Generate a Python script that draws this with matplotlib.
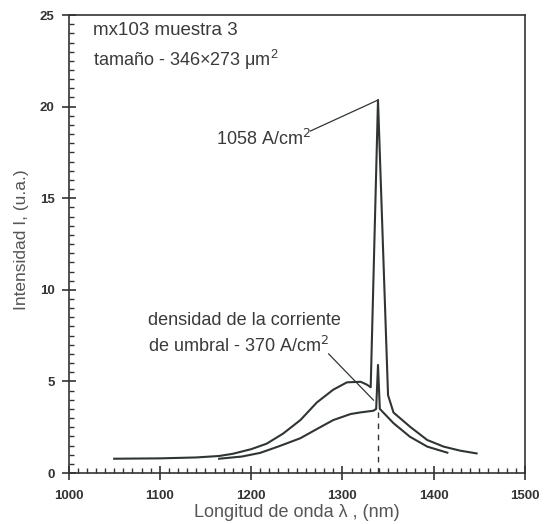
import matplotlib
matplotlib.use("Agg")
import matplotlib.pyplot as plt
from matplotlib.ticker import MultipleLocator

plt.rcParams['font.family'] = ['Liberation Sans', 'DejaVu Sans']

# curve at 1058 A/cm2 (tall laser line)
wl_high = [1050, 1100, 1140, 1165, 1180, 1200, 1217, 1235, 1254, 1272, 1290,
           1305, 1320, 1327, 1331, 1339, 1350, 1356, 1374, 1393, 1411, 1429, 1447]
int_high = [0.78, 0.80, 0.85, 0.93, 1.05, 1.30, 1.60, 2.15, 2.89, 3.85, 4.55,
            4.95, 4.98, 4.82, 4.68, 20.36, 4.25, 3.30, 2.53, 1.80, 1.44, 1.22, 1.07]

# curve at threshold, 370 A/cm2
wl_low = [1165, 1190, 1210, 1230, 1254, 1272, 1290, 1309, 1320, 1334, 1337,
          1339, 1341, 1356, 1374, 1393, 1415]
int_low = [0.78, 0.90, 1.10, 1.45, 1.90, 2.40, 2.89, 3.22, 3.31, 3.40, 3.50,
           5.90, 3.50, 2.72, 1.98, 1.44, 1.11]

line_col = '#2f3631'
text_col = '#3a3a3a'

fig = plt.figure(figsize=(5.48, 5.24), dpi=100)
ax = fig.add_axes([0.125, 0.0973, 0.833, 0.874])

ax.plot(wl_high, int_high, color=line_col, lw=1.5)
ax.plot(wl_low, int_low, color=line_col, lw=1.5)

# threshold marker
ax.plot([1339, 1339], [0, 3.4], color=line_col, lw=1.0, ls=(0, (4, 4)))

# annotations
ax.plot([1265, 1339], [18.67, 20.36], color=line_col, lw=0.9)
ax.plot([1285, 1334], [6.5, 3.98], color=line_col, lw=0.9)

ax.text(1027, 24.15, 'mx103 muestra 3', fontsize=13.5, color=text_col, va='center')
ax.text(1027, 22.55, 'tamaño - 346×273 $\\mathregular{\\mu m^2}$', fontsize=13,
        color=text_col, va='center')
ax.text(1266, 18.25, '1058 A/cm$^2$', fontsize=13, color=text_col,
        va='center', ha='right')
ax.text(1087, 8.35, 'densidad de la corriente', fontsize=13, color=text_col, va='center')
ax.text(1087, 6.95, 'de umbral - 370 A/cm$^2$', fontsize=13, color=text_col, va='center')

ax.set_xlim(1000, 1500)
ax.set_ylim(0, 25)
ax.xaxis.set_major_locator(MultipleLocator(100))
ax.xaxis.set_minor_locator(MultipleLocator(10))
ax.yaxis.set_major_locator(MultipleLocator(5))
ax.yaxis.set_minor_locator(MultipleLocator(0.5))

ax.tick_params(which='major', direction='inout', length=10, width=1.2,
               colors='#333333', labelsize=9.5, top=False, right=False)
ax.tick_params(which='minor', direction='in', length=3.5, width=1.0,
               color='#333333', top=False, right=False)
ax.tick_params(axis='x', which='major', pad=7)
ax.tick_params(axis='y', which='major', pad=5)
for lab in ax.get_xticklabels() + ax.get_yticklabels():
    lab.set_fontweight('bold')

for sp in ax.spines.values():
    sp.set_linewidth(1.2)
    sp.set_color('#333333')

ax.text(0.5, -0.087, 'Longitud de onda λ , (nm)', transform=ax.transAxes,
        fontsize=13, color='#555555', ha='center', va='center')
ax.text(-0.102, 0.509, 'Intensidad I, (u.a.)', transform=ax.transAxes,
        fontsize=12.5, color='#555555', ha='center', va='center', rotation=90)

fig.savefig('out.png', dpi=100)
